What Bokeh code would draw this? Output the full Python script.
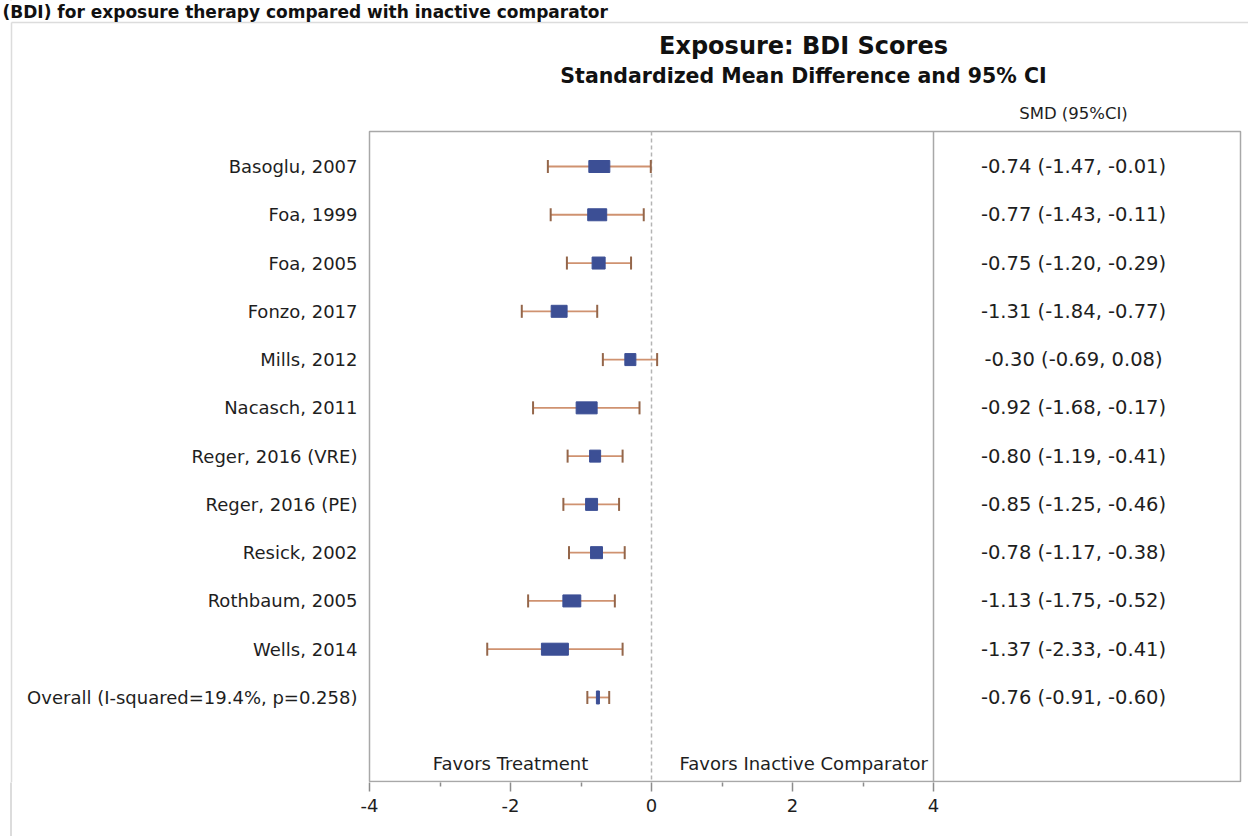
from bokeh.plotting import figure
from bokeh.models import Range1d, FixedTicker, ColumnDataSource, NumeralTickFormatter
from bokeh.core.properties import value
from bokeh.embed import file_html
from bokeh.resources import INLINE

# ---------------- data ----------------
studies = ["Basoglu, 2007", "Foa, 1999", "Foa, 2005", "Fonzo, 2017", "Mills, 2012",
           "Nacasch, 2011", "Reger, 2016 (VRE)", "Reger, 2016 (PE)", "Resick, 2002",
           "Rothbaum, 2005", "Wells, 2014"]
smd = [-0.74, -0.77, -0.75, -1.31, -0.30, -0.92, -0.80, -0.85, -0.78, -1.13, -1.37]
ci_low = [-1.47, -1.43, -1.20, -1.84, -0.69, -1.68, -1.19, -1.25, -1.17, -1.75, -2.33]
ci_high = [-0.01, -0.11, -0.29, -0.77, 0.08, -0.17, -0.41, -0.46, -0.38, -0.52, -0.41]
weight_pct = [11.6, 10.5, 7.2, 8.8, 6.1, 11.6, 6.1, 6.6, 6.6, 9.9, 14.9]

overall_label = "Overall (I-squared=19.4%, p=0.258)"
overall_smd = -0.76
overall_low = -0.91
overall_high = -0.60

x_ticks = [-4, -2, 0, 2, 4]
x_minor_ticks = [-3, -1, 1, 3]

page_title = "(BDI) for exposure therapy compared with inactive comparator"
title = "Exposure: BDI Scores"
subtitle = "Standardized Mean Difference and 95% CI"
column_header = "SMD (95%CI)"
favors_left = "Favors Treatment"
favors_right = "Favors Inactive Comparator"

# ---------------- layout helpers ----------------
W, H = 1248, 836
AXIS_H = 54
FRAME_H = H - AXIS_H
X0_PX, PX_PER_UNIT = 651, 70.5
ROW1_PX, ROW_PX = 166, 48.27
PAGE_LINE_X, PAGE_LINE_Y = 11, 22


def xd(px):
    return (px - X0_PX) / PX_PER_UNIT


def yd(px):
    return 1 + (px - ROW1_PX) / ROW_PX


FONT = "DejaVu Sans"
TXT = "#1e1e1e"
BLUE = "#3c4f95"
CI_COL = "#cf9270"
CAP_COL = "#94664a"
BOX_COL = "#a8a8a8"
PAGE_LINE = "#dcdcdc"

p = figure(width=W, height=H, output_backend="svg", toolbar_location=None,
           x_range=Range1d(xd(0), xd(W)), y_range=Range1d(yd(FRAME_H), yd(0)),
           min_border=0, min_border_bottom=AXIS_H, min_border_left=0,
           min_border_right=0, min_border_top=0, y_axis_location=None,
           outline_line_color=None, background_fill_color="white",
           border_fill_color=None)
p.grid.grid_line_color = None
# page frame line continuing through the axis strip (transparent border area)
p.styles = {
    "background-color": "white",
    "background-image": "linear-gradient(to right, transparent %dpx, %s %dpx, %s %dpx, transparent %dpx)"
    % (PAGE_LINE_X - 1, PAGE_LINE, PAGE_LINE_X - 1, PAGE_LINE, PAGE_LINE_X + 1, PAGE_LINE_X + 1),
}

# x axis
ax = p.xaxis[0]
ax.ticker = FixedTicker(ticks=x_ticks, minor_ticks=x_minor_ticks)
ax.formatter = NumeralTickFormatter(format="0")
ax.axis_line_color = None
ax.major_tick_line_color = "#8c8c8c"
ax.major_tick_line_width = 1.5
ax.major_tick_in = 0
ax.major_tick_out = 9
ax.minor_tick_line_color = "#8c8c8c"
ax.minor_tick_line_width = 1.5
ax.minor_tick_in = 0
ax.minor_tick_out = 4
ax.major_label_text_font = FONT
ax.major_label_text_font_size = "18px"
ax.major_label_text_color = TXT
ax.major_label_standoff = 7

# outer light frame of the page
p.segment(x0=[xd(PAGE_LINE_X), xd(PAGE_LINE_X)], y0=[yd(PAGE_LINE_Y), yd(PAGE_LINE_Y)],
          x1=[xd(W), xd(PAGE_LINE_X)], y1=[yd(PAGE_LINE_Y), yd(FRAME_H)],
          line_color=PAGE_LINE, line_width=1.5)

# plot box and divider
box_top, box_bottom = yd(131), yd(FRAME_H - 1)
box_right = xd(1240)
p.quad(left=[x_ticks[0]], right=[box_right], top=[box_top], bottom=[box_bottom],
       fill_color=None, line_color=BOX_COL, line_width=1.5)
p.segment(x0=[x_ticks[-1]], y0=[box_top], x1=[x_ticks[-1]], y1=[box_bottom],
          line_color=BOX_COL, line_width=1.5)
p.segment(x0=[0], y0=[box_top], x1=[0], y1=[box_bottom],
          line_color="#b4b4b4", line_width=1.5, line_dash="4 3")

# study rows
rows = list(range(1, len(studies) + 1))
src = ColumnDataSource(dict(
    y=rows, smd=smd, lo=ci_low, hi=ci_high,
    cap_a=[r - 0.135 for r in rows], cap_b=[r + 0.135 for r in rows],
    w=[wt * 1.81 for wt in weight_pct],
    label=studies,
    txt=["%.2f (%.2f, %.2f)" % (m, l, h) for m, l, h in zip(smd, ci_low, ci_high)],
))
p.segment(x0="lo", y0="y", x1="hi", y1="y", source=src, line_color=CI_COL, line_width=1.8)
p.segment(x0="lo", y0="cap_a", x1="lo", y1="cap_b", source=src, line_color=CAP_COL, line_width=2)
p.segment(x0="hi", y0="cap_a", x1="hi", y1="cap_b", source=src, line_color=CAP_COL, line_width=2)
p.rect(x="smd", y="y", width="w", height=12, width_units="screen", height_units="screen",
       source=src, fill_color=BLUE, line_color=BLUE)

# overall row
orow = len(studies) + 1
osrc = ColumnDataSource(dict(
    y=[orow], smd=[overall_smd], lo=[overall_low], hi=[overall_high],
    cap_a=[orow - 0.135], cap_b=[orow + 0.135],
    label=[overall_label],
    txt=["%.2f (%.2f, %.2f)" % (overall_smd, overall_low, overall_high)],
))
p.segment(x0="lo", y0="y", x1="hi", y1="y", source=osrc, line_color=CI_COL, line_width=1.8)
p.segment(x0="lo", y0="cap_a", x1="lo", y1="cap_b", source=osrc, line_color=CAP_COL, line_width=2)
p.segment(x0="hi", y0="cap_a", x1="hi", y1="cap_b", source=osrc, line_color=CAP_COL, line_width=2)
p.rect(x="smd", y="y", width=3, height=13, width_units="screen", height_units="screen",
       source=osrc, fill_color=BLUE, line_color=BLUE)

# texts: labels and values
for s in (src, osrc):
    p.text(x=xd(357), y="y", text="label", source=s, text_font=value(FONT),
           text_font_size=value("18px"), text_align="right", text_baseline="middle",
           text_color=TXT)
    p.text(x=xd(1073), y="y", text="txt", source=s, text_font=value(FONT),
           text_font_size=value("19.5px"), text_align="center", text_baseline="middle",
           text_color=TXT)

# headings
p.text(x=[xd(1073)], y=[yd(113)], text=[column_header], text_font=value(FONT),
       text_font_size=value("16.5px"), text_align="center", text_baseline="middle",
       text_color=TXT)
p.text(x=[xd(803)], y=[yd(45)], text=[title], text_font=value(FONT),
       text_font_size=value("24px"), text_font_style="bold", text_align="center",
       text_baseline="middle", text_color="#111111")
p.text(x=[xd(803)], y=[yd(75)], text=[subtitle], text_font=value(FONT),
       text_font_size=value("20.5px"), text_font_style="bold", text_align="center",
       text_baseline="middle", text_color="#111111")
p.text(x=[xd(2)], y=[yd(1)], text=[page_title], text_font=value(FONT),
       text_font_size=value("17px"), text_font_style="bold", text_align="left",
       text_baseline="top", text_color="#111111")

# favors labels
p.text(x=[-2], y=[yd(763)], text=[favors_left], text_font=value(FONT),
       text_font_size=value("18px"), text_align="center", text_baseline="middle",
       text_color=TXT)
p.text(x=[xd(679)], y=[yd(763)], text=[favors_right], text_font=value(FONT),
       text_font_size=value("18px"), text_align="left", text_baseline="middle",
       text_color=TXT)

open("out.html", "w").write(file_html(p, INLINE))
